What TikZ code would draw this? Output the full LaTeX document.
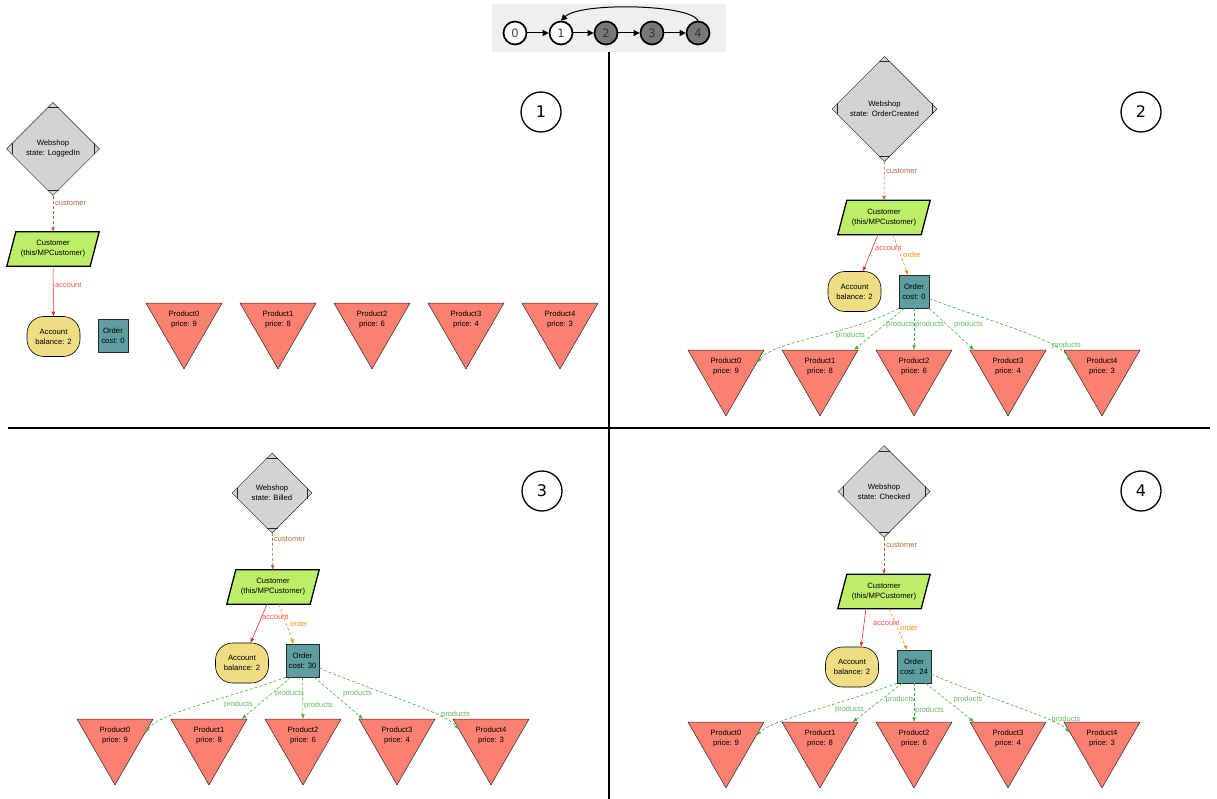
\documentclass[tikz,border=0pt]{standalone}
\usepackage{fontspec}
\setmainfont{Liberation Sans}
\newfontfamily\dejavu{DejaVu Sans}
\usetikzlibrary{shapes.geometric,arrows.meta,calc}
\pgfdeclarelayer{bg}
\pgfsetlayers{bg,main}
\definecolor{wsgray}{HTML}{D3D3D3}
\definecolor{custgreen}{HTML}{BCEE68}
\definecolor{accyellow}{HTML}{EEDD82}
\definecolor{ordteal}{HTML}{5F9EA0}
\definecolor{prodsalmon}{HTML}{FA8072}
\definecolor{ccust}{HTML}{B8643A}
\definecolor{cacc}{HTML}{E8302A}
\definecolor{cord}{HTML}{FF8C00}
\definecolor{cprod}{HTML}{44AE44}
\definecolor{stgray}{HTML}{787878}
\definecolor{barbg}{HTML}{EFEFEF}
\newcommand\mdmarks[1]{%
  \draw[mdline] ($(#1.north)+(-5.5,5.5)$) -- ($(#1.north)+(5.5,5.5)$);
  \draw[mdline] ($(#1.south)+(-5.5,-5.5)$) -- ($(#1.south)+(5.5,-5.5)$);
  \draw[mdline] ($(#1.west)+(5.5,-5.5)$) -- ($(#1.west)+(5.5,5.5)$);
  \draw[mdline] ($(#1.east)+(-5.5,-5.5)$) -- ($(#1.east)+(-5.5,5.5)$);}
\newcommand\custshape[1]{%
  \begin{pgfonlayer}{bg}
  \draw[custline] ($(#1.south west)+(-4.5,0)$) -- ($(#1.south east)+(-4.5,0)$) -- ($(#1.north east)+(4.5,0)$) -- ($(#1.north west)+(4.5,0)$) -- cycle;
  \end{pgfonlayer}}
\tikzset{
  txt/.style={font=\fontsize{7.7}{10}\selectfont, align=center},
  lbl/.style={txt, inner sep=0},
  webshop/.style={diamond, draw=black!85, fill=wsgray, line width=0.5pt, inner sep=0, minimum width=#1, minimum height=#1, txt},
  mdline/.style={draw=black!85, line width=0.5pt},
  custbox/.style={rectangle, minimum width=83, minimum height=34, inner sep=0, txt},
  custline/.style={draw=black, line width=1.3pt, fill=custgreen},
  account/.style={rectangle, rounded corners=17, draw=black, line width=0.6pt, fill=accyellow, minimum width=53, minimum height=40, inner sep=0, txt},
  order/.style={rectangle, draw=black!85, line width=0.6pt, fill=ordteal, minimum width=#1, minimum height=33, inner sep=0, txt},
  product/.style={regular polygon, regular polygon sides=3, shape border rotate=180, draw=black!85, line width=0.5pt, fill=prodsalmon, minimum size=87.8, inner sep=0},
  elabel/.style={font=\fontsize{7.5}{9}\selectfont, inner sep=0},
  tip/.style={-{Triangle[length=4.5pt,width=3.4pt]}},
  ecustomer/.style={draw=ccust, dash pattern=on 3pt off 2pt, line width=0.6pt, tip},
  eaccount/.style={draw=cacc, line width=0.6pt, tip},
  eorder/.style={draw=cord, dash pattern=on 3pt off 2pt, line width=0.6pt, tip},
  eproducts/.style={draw=cprod, dash pattern=on 3pt off 2pt, line width=0.6pt, tip},
  lcust/.style={elabel, text=ccust, anchor=west},
  lacc/.style={elabel, text=cacc!85, anchor=west},
  lord/.style={elabel, text=cord, anchor=west},
  lprod/.style={elabel, text=cprod!85},
  stnode/.style={circle, draw=black, line width=1.7pt, minimum size=23, inner sep=0, font=\dejavu\fontsize{11.5}{11.5}\selectfont, fill=#1},
  starrow/.style={draw=black, line width=1pt, -{Triangle[length=6pt,width=6pt]}},
  pnum/.style={circle, draw=black, line width=1.3pt, minimum size=40, inner sep=0, font=\dejavu\fontsize{16}{16}\selectfont},
  divider/.style={draw=black, line width=1.2pt}
}
\begin{document}
\begin{tikzpicture}[x=1pt,y=-1pt]
\useasboundingbox (0,0) rectangle (1217,799);
% ---------- state bar ----------
\fill[barbg] (492,4) rectangle (726,52);
\node[stnode=white, text=black!75] (S0) at (515,33) {0};
\node[stnode=white, text=black!75] (S1) at (561,33) {1};
\node[stnode=stgray, text=black!80] (S2) at (606,33) {2};
\node[stnode=stgray, text=black!80] (S3) at (652,33) {3};
\node[stnode=stgray, text=black!80] (S4) at (698,33) {4};
\draw[starrow] (S0) -- (S1);
\draw[starrow] (S1) -- (S2);
\draw[starrow] (S2) -- (S3);
\draw[starrow] (S3) -- (S4);
\draw[starrow] (S4.north) .. controls (690,4) and (580,2) .. (S1.north);
% ---------- dividers ----------
\draw[divider] (609,52) -- (609,799);
\draw[divider] (8,428) -- (1210,428);
% ---------- panel numbers ----------
\node[pnum] (N1) at (541,112) {1};
\node[pnum] (N2) at (1141,112) {2};
\node[pnum] (N3) at (542,491) {3};
\node[pnum] (N4) at (1141,491) {4};
% ---------- panel 1 ----------
\node[webshop=93] (W1) at (53,149) {Webshop\\state: LoggedIn};
\mdmarks{W1}
\node[custbox] (C1) at (53,249) {Customer\\(this/MPCustomer)};
\custshape{C1}
\node[account] (A1) at (53.5,336.5) {Account\\balance: 2};
\node[order=30] (O1) at (113,335.5) {Order\\cost: 0};
\foreach \i/\x/\p in {0/184/9,1/278/8,2/372/6,3/466/4,4/560/3}{
  \node[product] (P1\i) at (\x,325) {};
  \node[lbl] (T1\i) at (\x,320) {Product\i\\price: \p};
}
\draw[ecustomer] (W1) -- (C1);
\node[lcust] (L1c) at (55,203) {customer};
\draw[eaccount] (C1) -- (A1);
\node[lacc] (L1a) at (55,285) {account};
% ---------- panel 2 ----------
\node[webshop=105] (W2) at (884.5,109) {Webshop\\state: OrderCreated};
\mdmarks{W2}
\node[custbox] (C2) at (884,217.5) {Customer\\(this/MPCustomer)};
\custshape{C2}
\node[account] (A2) at (854.5,291.5) {Account\\balance: 2};
\node[order=30] (O2) at (914,291.5) {Order\\cost: 0};
\foreach \i/\x/\p in {0/726/9,1/820/8,2/914/6,3/1008/4,4/1102/3}{
  \node[product] (P2\i) at (\x,372) {};
  \node[lbl] (T2\i) at (\x,367) {Product\i\\price: \p};
}
\draw[ecustomer] (W2) -- (C2);
\node[lcust] (L2c) at (886,171) {customer};
\draw[eaccount] ($(C2.south)+(-6,0)$) -- (A2);
\node[lacc] (L2a) at (875,248) {account};
\draw[eorder] ($(C2.south)+(9,0)$) -- (O2);
\node[lord] (L2o) at (903,255) {order};
\draw[eproducts] (O2.south west) .. controls (850,335) and (775,340) .. (P20.17);
\draw[eproducts] (O2.-120) -- (P21.33);
\draw[eproducts] (O2.-90) -- (P22.90);
\draw[eproducts] (O2.-48) -- (P23.147);
\draw[eproducts] (O2.-25) .. controls (1000,325) and (1060,340) .. (P24.162);
\node[lprod] (L2p0) at (850.5,336) {products};
\node[lprod] (L2p1) at (900.5,325) {products};
\node[lprod] (L2p2) at (929.5,325) {products};
\node[lprod] (L2p3) at (968.5,325) {products};
\node[lprod] (L2p4) at (1066.5,346) {products};
% ---------- panel 3 ----------
\node[webshop=80] (W3) at (272,493) {Webshop\\state: Billed};
\mdmarks{W3}
\node[custbox] (C3) at (273,587) {Customer\\(this/MPCustomer)};
\custshape{C3}
\node[account] (A3) at (242,663) {Account\\balance: 2};
\node[order=33] (O3) at (302.5,660.5) {Order\\cost: 30};
\foreach \i/\x/\p in {0/115/9,1/209/8,2/303/6,3/397/4,4/491/3}{
  \node[product] (P3\i) at (\x,741) {};
  \node[lbl] (T3\i) at (\x,736) {Product\i\\price: \p};
}
\draw[ecustomer] (W3) -- (C3);
\node[lcust] (L3c) at (274,539) {customer};
\draw[eaccount] ($(C3.south)+(-6,0)$) -- (A3);
\node[lacc] (L3a) at (262,617) {account};
\draw[eorder] ($(C3.south)+(6,0)$) -- ($(O3.north)+(-9,0)$);
\node[lord] (L3o) at (290,624) {order};
\draw[eproducts] (O3.south west) .. controls (240,695) and (160,712) .. (P30.16);
\draw[eproducts] (O3.-125) -- (P31.34);
\draw[eproducts] (O3.-90) -- (P32.90);
\draw[eproducts] (O3.-55) -- (P33.147);
\draw[eproducts] (O3.-24) .. controls (370,690) and (445,712) .. (P34.160);
\node[lprod] (L3p0) at (238.5,705) {products};
\node[lprod] (L3p1) at (289.5,694) {products};
\node[lprod] (L3p2) at (318.5,706) {products};
\node[lprod] (L3p3) at (357.5,694) {products};
\node[lprod] (L3p4) at (455.5,715) {products};
% ---------- panel 4 ----------
\node[webshop=92] (W4) at (884,491.5) {Webshop\\state: Checked};
\mdmarks{W4}
\node[custbox] (C4) at (884,591.5) {Customer\\(this/MPCustomer)};
\custshape{C4}
\node[account] (A4) at (852,667) {Account\\balance: 2};
\node[order=34] (O4) at (914,666.5) {Order\\cost: 24};
\foreach \i/\x/\p in {0/726/9,1/820/8,2/914/6,3/1008/4,4/1102/3}{
  \node[product] (P4\i) at (\x,744) {};
  \node[lbl] (T4\i) at (\x,739) {Product\i\\price: \p};
}
\draw[ecustomer] (W4) -- (C4);
\node[lcust] (L4c) at (886,545) {customer};
\draw[eaccount] ($(C4.south)+(-18,0)$) -- ($(A4.north)+(9,0)$);
\node[lacc] (L4a) at (873,623) {account};
\draw[eorder] ($(C4.south)+(5,0)$) -- ($(O4.north)+(-7,0)$);
\node[lord] (L4o) at (900,628) {order};
\draw[eproducts] (O4.south west) .. controls (851,701) and (771,720) .. (P40.16);
\draw[eproducts] (O4.-125) -- (P41.34);
\draw[eproducts] (O4.-90) -- (P42.90);
\draw[eproducts] (O4.-55) -- (P43.147);
\draw[eproducts] (O4.-24) .. controls (981,696) and (1056,718) .. (P44.160);
\node[lprod] (L4p0) at (849.5,710) {products};
\node[lprod] (L4p1) at (900,700) {products};
\node[lprod] (L4p2) at (929.5,711) {products};
\node[lprod] (L4p3) at (968,700) {products};
\node[lprod] (L4p4) at (1066,720) {products};
\end{tikzpicture}
\end{document}
